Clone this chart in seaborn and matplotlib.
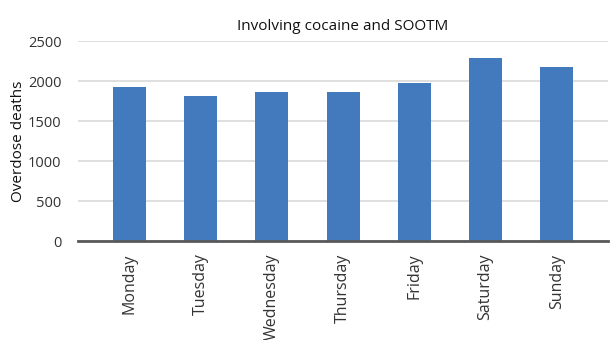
import matplotlib
matplotlib.use('Agg')
import matplotlib.pyplot as plt
import seaborn as sns
import pandas as pd

# data
days = ['Monday', 'Tuesday', 'Wednesday', 'Thursday', 'Friday', 'Saturday', 'Sunday']
deaths = [1925, 1812, 1862, 1862, 1975, 2287, 2175]
y_ticks = [0, 500, 1000, 1500, 2000, 2500]

df = pd.DataFrame({'day': days, 'deaths': deaths})

sns.set_theme(style='white')
plt.rcParams['font.family'] = ['Open Sans', 'DejaVu Sans']

fig = plt.figure(figsize=(6.1, 3.4), dpi=100)
ax = fig.add_axes([0.128, 0.291, 0.869, 0.588])

sns.barplot(data=df, x='day', y='deaths', color='#4379BD', width=0.46,
            saturation=1, linewidth=0, ax=ax, zorder=3)

ax.set_ylim(0, 2500)
ax.set_yticks(y_ticks)
ax.set_xlim(-0.72, 6.72)
ax.yaxis.grid(True, color='#d9d9d9', linewidth=1.2, zorder=0)
ax.set_axisbelow(True)

for s in ['top', 'right', 'left']:
    ax.spines[s].set_visible(False)
ax.spines['bottom'].set_color('#595959')
ax.spines['bottom'].set_linewidth(2)
ax.spines['bottom'].set_zorder(4)

ax.tick_params(axis='both', length=0, labelsize=10.5, labelcolor='#333333')
ax.tick_params(axis='x', pad=9, labelsize=11.5)
ax.tick_params(axis='y', pad=12)
plt.setp(ax.get_xticklabels(), rotation=90)

ax.set_xlabel('')
ax.set_ylabel('Overdose deaths', fontsize=11, color='#111111', labelpad=1)
ax.set_title('Involving cocaine and SOOTM', fontsize=11, color='#111111', pad=8)

fig.savefig('out.png', dpi=100)
